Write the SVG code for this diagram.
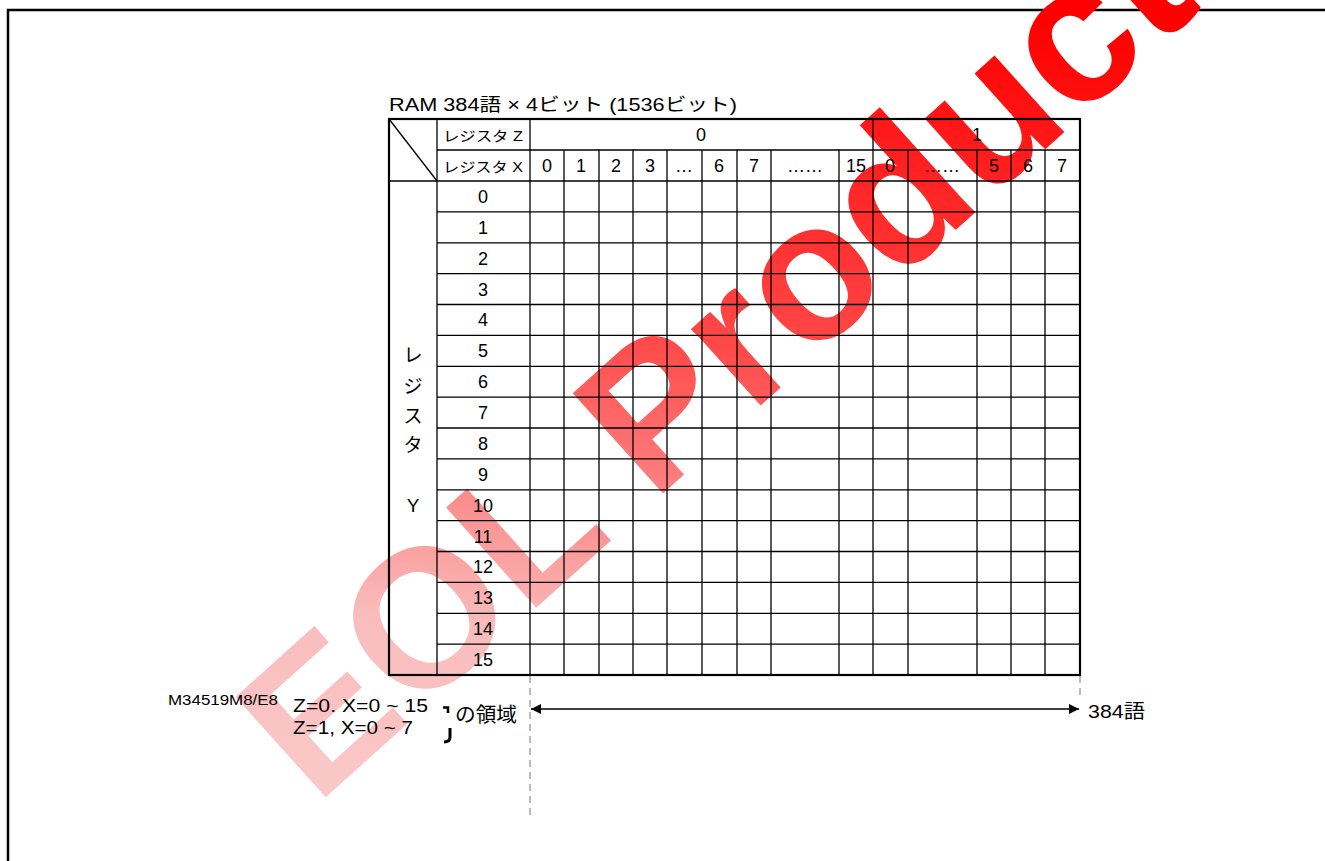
<svg xmlns="http://www.w3.org/2000/svg" width="1325" height="861" viewBox="0 0 1325 861">
<defs>
<style>
.t{font-family:"Liberation Sans","Noto Sans CJK JP",sans-serif;fill:#000}
.c{text-anchor:middle}
.n{font-size:18px}
.in{stroke:#000;stroke-width:1.3;fill:none}
.out{stroke:#000;stroke-width:2.2;fill:none}
.dash{stroke:#777;stroke-width:1;stroke-dasharray:7 5;fill:none}
</style>
<linearGradient id="wm" gradientUnits="userSpaceOnUse" x1="250" y1="800" x2="1150" y2="0">
<stop offset="0" stop-color="#fde0e0"/>
<stop offset="0.45" stop-color="#f9bcbc"/>
<stop offset="0.7" stop-color="#ff4a4a"/>
<stop offset="1" stop-color="#ff0000"/>
</linearGradient>
<marker id="ah" viewBox="0 0 10 10" refX="10" refY="5" markerWidth="12" markerHeight="10" markerUnits="userSpaceOnUse" orient="auto-start-reverse">
<path d="M0,0 L10,5 L0,10 z" fill="#000"/>
</marker>
</defs>
<rect width="1325" height="861" fill="#fff"/>
<path d="M8,861 V10 H1325" stroke="#000" stroke-width="2.5" fill="none"/>
<text id="watermark" x="0" y="0" transform="translate(316,806) rotate(-42)" font-family="Liberation Sans, Arial, sans-serif" font-weight="bold" font-size="196" fill="url(#wm)">EOL Product</text>

<g id="title"><text class="t" x="389" y="111" font-size="18" textLength="348" lengthAdjust="spacingAndGlyphs">RAM 384語 × 4ビット (1536ビット)</text></g>

<g id="table">
<rect class="out" x="389" y="119" width="691" height="556"/>
<line class="in" x1="389" y1="119" x2="437" y2="181" stroke-width="0.8"/>
<line class="in" x1="437" y1="150" x2="1080" y2="150"/>
<line class="in" x1="389" y1="181" x2="1080" y2="181"/>
<g class="in">
<line x1="437" y1="211.9" x2="1080" y2="211.9"/><line x1="437" y1="242.8" x2="1080" y2="242.8"/><line x1="437" y1="273.6" x2="1080" y2="273.6"/><line x1="437" y1="304.5" x2="1080" y2="304.5"/><line x1="437" y1="335.4" x2="1080" y2="335.4"/><line x1="437" y1="366.3" x2="1080" y2="366.3"/><line x1="437" y1="397.1" x2="1080" y2="397.1"/><line x1="437" y1="428" x2="1080" y2="428"/><line x1="437" y1="458.9" x2="1080" y2="458.9"/><line x1="437" y1="489.8" x2="1080" y2="489.8"/><line x1="437" y1="520.6" x2="1080" y2="520.6"/><line x1="437" y1="551.5" x2="1080" y2="551.5"/><line x1="437" y1="582.4" x2="1080" y2="582.4"/><line x1="437" y1="613.3" x2="1080" y2="613.3"/><line x1="437" y1="644.1" x2="1080" y2="644.1"/>
<line x1="437" y1="119" x2="437" y2="675"/>
<line x1="530" y1="119" x2="530" y2="675"/>
<line x1="873" y1="119" x2="873" y2="675"/>
<line x1="564" y1="150" x2="564" y2="675"/><line x1="599" y1="150" x2="599" y2="675"/><line x1="633" y1="150" x2="633" y2="675"/><line x1="667" y1="150" x2="667" y2="675"/><line x1="702" y1="150" x2="702" y2="675"/><line x1="737" y1="150" x2="737" y2="675"/><line x1="771" y1="150" x2="771" y2="675"/><line x1="839" y1="150" x2="839" y2="675"/><line x1="908" y1="150" x2="908" y2="675"/><line x1="977" y1="150" x2="977" y2="675"/><line x1="1011" y1="150" x2="1011" y2="675"/><line x1="1045" y1="150" x2="1045" y2="675"/>
</g>
<text class="t" x="443" y="141" font-size="14" textLength="80" lengthAdjust="spacingAndGlyphs">レジスタ Z</text>
<text class="t" x="443" y="172" font-size="14" textLength="80" lengthAdjust="spacingAndGlyphs">レジスタ X</text>
<text class="t c n" x="701" y="141">0</text>
<text class="t c n" x="977" y="141">1</text>
<g class="t c n">
<text x="547" y="172">0</text><text x="581" y="172">1</text><text x="616" y="172">2</text><text x="650" y="172">3</text><text x="684" y="172">…</text><text x="719" y="172">6</text><text x="754" y="172">7</text><text x="805" y="172">……</text><text x="856" y="172">15</text><text x="890" y="172">0</text><text x="942" y="172">……</text><text x="994" y="172">5</text><text x="1028" y="172">6</text><text x="1062" y="172">7</text>
</g>
<g class="t c n">
<text x="483" y="202.8">0</text><text x="483" y="233.7">1</text><text x="483" y="264.6">2</text><text x="483" y="295.5">3</text><text x="483" y="326.3">4</text><text x="483" y="357.2">5</text><text x="483" y="388.1">6</text><text x="483" y="419">7</text><text x="483" y="449.8">8</text><text x="483" y="480.7">9</text><text x="483" y="511.6">10</text><text x="483" y="542.5">11</text><text x="483" y="573.4">12</text><text x="483" y="604.2">13</text><text x="483" y="635.1">14</text><text x="483" y="666">15</text>
</g>
<g class="t c" font-size="19">
<text x="413" y="362">レ</text><text x="413" y="393">ジ</text><text x="413" y="423">ス</text><text x="413" y="452">タ</text><text x="413" y="512">Y</text>
</g>
</g>

<g id="notes">
<text class="t" x="168" y="705" font-size="14" textLength="110" lengthAdjust="spacingAndGlyphs">M34519M8/E8</text>
<text class="t" x="293" y="712" font-size="19" textLength="135" lengthAdjust="spacingAndGlyphs">Z=0. X=0 ~ 15</text>
<text class="t" x="293" y="734" font-size="19" textLength="120" lengthAdjust="spacingAndGlyphs">Z=1, X=0 ~ 7</text>
<path d="M443,707.5 H448 V713" stroke="#000" stroke-width="2.5" fill="none"/>
<path d="M450,728 V737 Q450,742 444,742" stroke="#000" stroke-width="3" fill="none"/>
<text class="t" x="455" y="722" font-size="20" textLength="62" lengthAdjust="spacingAndGlyphs">の領域</text>
<text class="t" x="1088" y="718" font-size="19" textLength="57" lengthAdjust="spacingAndGlyphs">384語</text>
</g>

<g id="connectors">
<line class="dash" x1="530" y1="676" x2="530" y2="815"/>
<line class="dash" x1="1080" y1="676" x2="1080" y2="700"/>
<line x1="531" y1="709" x2="1079" y2="709" stroke="#000" stroke-width="1.3" marker-start="url(#ah)" marker-end="url(#ah)"/>
</g>
</svg>
